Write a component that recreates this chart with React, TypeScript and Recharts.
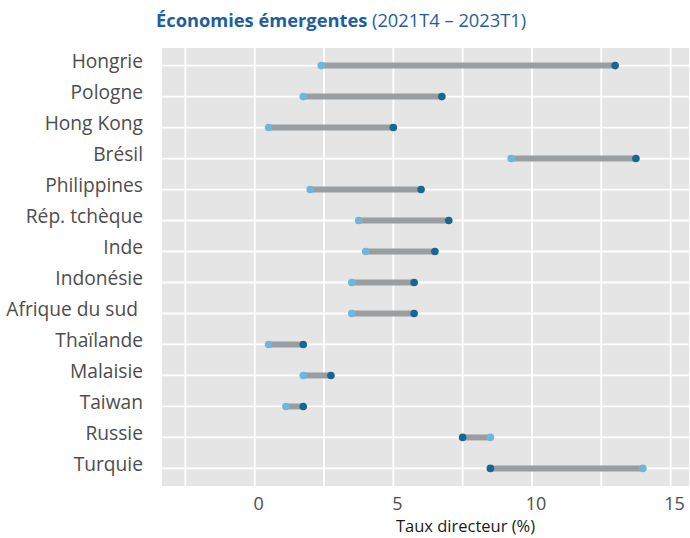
import { CartesianGrid, Scatter, ScatterChart, XAxis, YAxis } from "recharts";

const countries = [
	"Hongrie",
	"Pologne",
	"Hong Kong",
	"Brésil",
	"Philippines",
	"Rép. tchèque",
	"Inde",
	"Indonésie",
	"Afrique du sud ",
	"Thaïlande",
	"Malaisie",
	"Taiwan",
	"Russie",
	"Turquie",
];
// taux directeur en 2021T4 et en 2023T1
const rate2021T4 = [2.4, 1.75, 0.5, 9.25, 2.0, 3.75, 4.0, 3.5, 3.5, 0.5, 1.75, 1.125, 8.5, 14.0];
const rate2023T1 = [13.0, 6.75, 5.0, 13.75, 6.0, 7.0, 6.5, 5.75, 5.75, 1.75, 2.75, 1.75, 7.5, 8.5];
const xTicks = [-2.5, 0, 2.5, 5, 7.5, 10, 12.5, 15];

const FONT = "'Open Sans', sans-serif";
const LIGHT = "#6cb8dc";
const DARK = "#166892";
const SEGMENT = "#9b9ea1";

const rows = countries.map((c, i) => [
	{ x: rate2021T4[i], y: i + 1, period: "2021T4", country: c },
	{ x: rate2023T1[i], y: i + 1, period: "2023T1", country: c },
]);

function Dot(props: any) {
	const { cx, cy, payload } = props;
	if (cx == null || cy == null) return null;
	return <circle cx={cx} cy={cy} r={3.8} fill={payload.period === "2021T4" ? LIGHT : DARK} />;
}

function XTick(props: any) {
	const { x, y, payload } = props;
	if (payload.value % 5 !== 0) return null;
	return (
		<text x={x + 4} y={y + 15} textAnchor="middle" fontFamily={FONT} fontSize={18} fill="#4d4d4d">
			{payload.value}
		</text>
	);
}

function YTick(props: any) {
	const { y, payload } = props;
	const label = countries[payload.value - 1];
	if (!label) return null;
	return (
		<text
			x={143}
			y={y + 2.5}
			textAnchor="end"
			fontFamily={FONT}
			fontSize={19.2}
			fill="#4d4d4d"
			style={{ whiteSpace: "pre" }}
		>
			{label}
		</text>
	);
}

function AxisTitle(props: any) {
	const { viewBox } = props;
	return (
		<text
			x={viewBox.x + viewBox.width / 2 + 40}
			y={532}
			textAnchor="middle"
			fontFamily={FONT}
			fontSize={16.5}
			fill="#1a1a1a"
		>
			Taux directeur (%)
		</text>
	);
}

export default function App() {
	return (
		<div style={{ position: "absolute", left: 0, top: 0, width: 690, height: 538, background: "#fff" }}>
			<div
				style={{
					position: "absolute",
					left: 156,
					top: 7,
					fontFamily: FONT,
					fontSize: 18.3,
					color: "#1f5e9c",
					whiteSpace: "nowrap",
				}}
			>
				<span style={{ fontWeight: 700 }}>Économies émergentes</span> (2021T4 – 2023T1)
			</div>
			<ScatterChart width={690} height={538} margin={{ top: 47, right: 0, bottom: 0, left: 0 }}>
				<CartesianGrid stroke="#ffffff" strokeWidth={1.8} fill="#e5e5e5" fillOpacity={1} />
				<XAxis
					type="number"
					dataKey="x"
					domain={[-3.38, 15.7]}
					ticks={xTicks}
					allowDataOverflow
					axisLine={false}
					tickLine={false}
					height={51}
					tick={<XTick />}
					label={<AxisTitle />}
				/>
				<YAxis
					type="number"
					dataKey="y"
					domain={[0.4, 14.6]}
					ticks={countries.map((_, i) => i + 1)}
					reversed
					allowDataOverflow
					axisLine={false}
					tickLine={false}
					width={161}
					tick={<YTick />}
				/>
				{rows.map((row, i) => (
					<Scatter
						key={countries[i]}
						data={row}
						line={{ stroke: SEGMENT, strokeWidth: 6 }}
						lineType="joint"
						shape={<Dot />}
						isAnimationActive={false}
					/>
				))}
			</ScatterChart>
		</div>
	);
}
